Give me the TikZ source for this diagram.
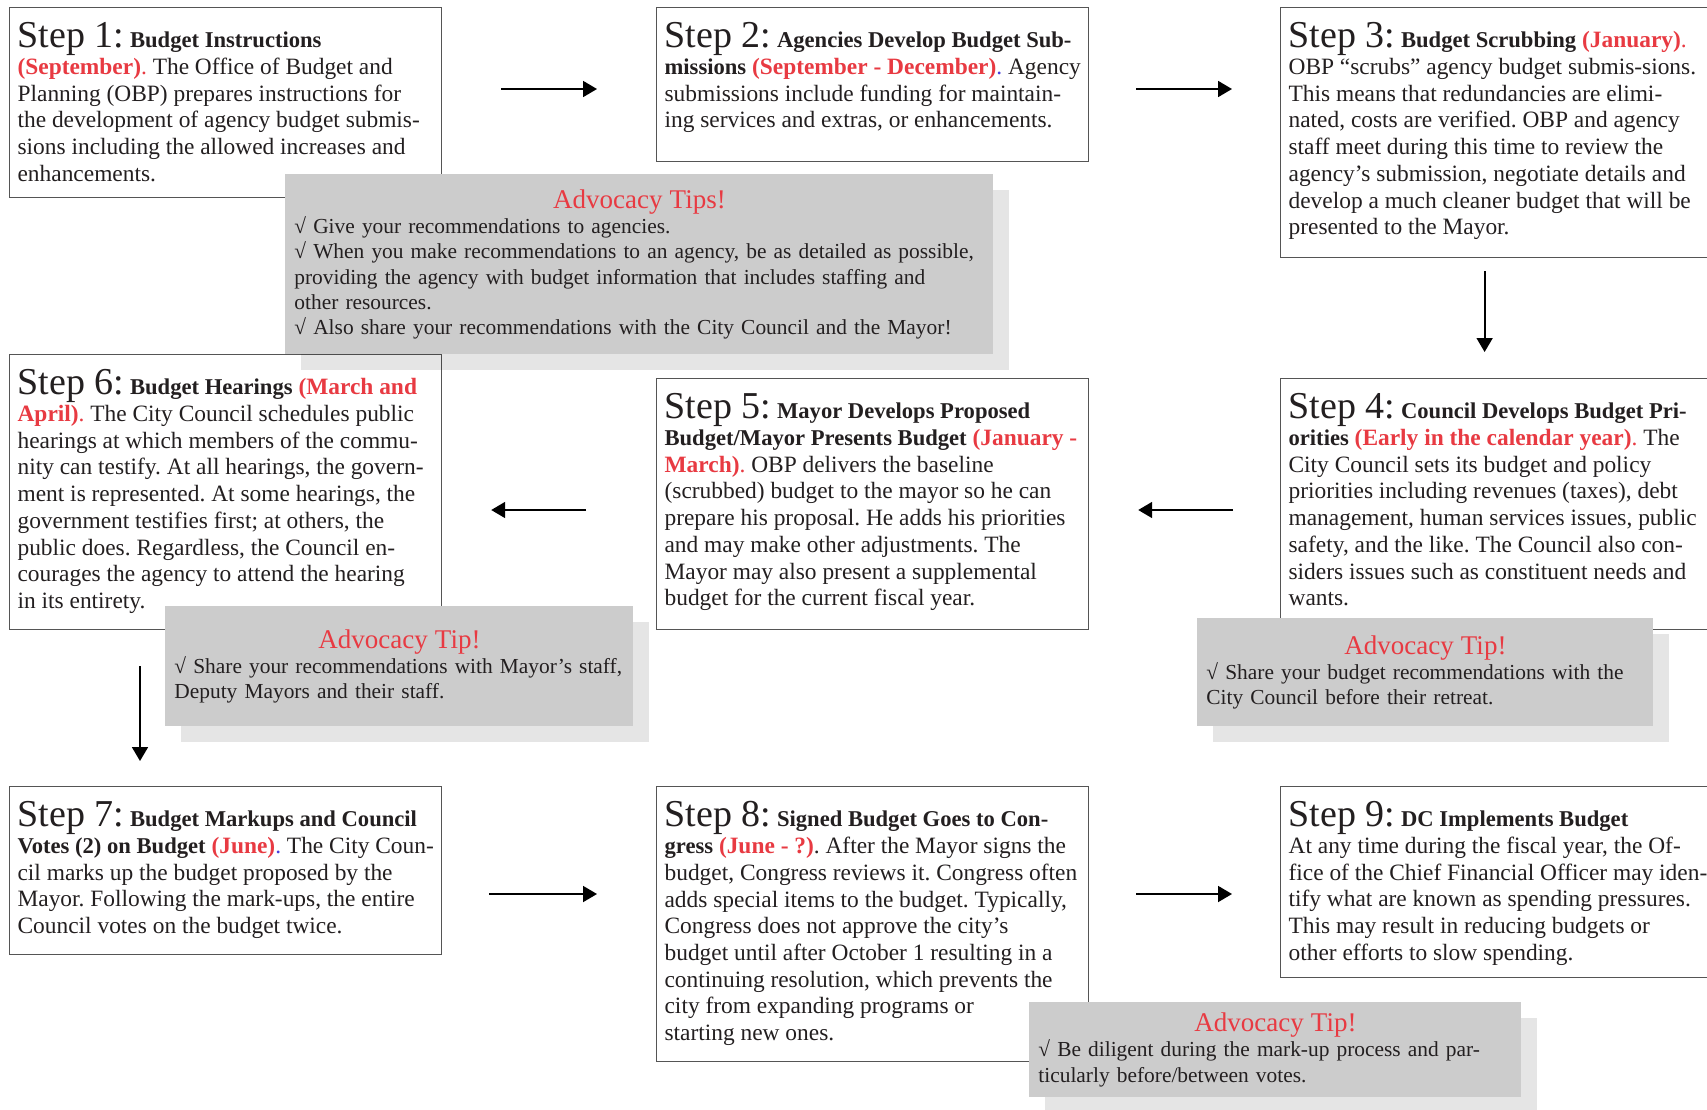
\documentclass[tikz,border=0pt]{standalone}
\usepackage{fontspec}
\setmainfont{Liberation Serif}
\usetikzlibrary{arrows.meta,shadows}
\usepackage{xcolor}
\definecolor{stepred}{RGB}{232, 58, 66}
\definecolor{tipgray}{RGB}{204, 204, 204}
\definecolor{framegray}{RGB}{85, 85, 85}
\definecolor{dotblue}{RGB}{70, 60, 220}
\definecolor{inkblack}{RGB}{35, 31, 32}
\setlength{\parindent}{0pt}
\frenchspacing

\newcommand{\stepfont}{\fontsize{11.7}{13.35}\selectfont}
\newcommand{\tipfont}{\fontsize{10.7}{12.6}\selectfont}
\newcommand{\stepno}[1]{{\fontsize{19}{13.35}\selectfont Step #1:}}
\newcommand{\ttl}[1]{{\fontsize{11.3}{13.35}\selectfont\bfseries #1}}
\newcommand{\stepdate}[1]{\textcolor{stepred}{\textbf{#1}.}}
\newcommand{\tiphead}[1]{{\fontsize{13.5}{14}\selectfont\color{stepred}#1}}
\newcommand{\steptext}[2]{\parbox[t][#1][t]{208pt}{\stepfont\begin{tabular}[t]{@{}l@{}}#2\end{tabular}}}

\begin{document}
\begin{tikzpicture}[x=0.5pt,y=-0.5pt,
    stepbox/.style={draw=framegray, line width=0.6pt, fill=white, text=inkblack,
      anchor=north west, inner xsep=4pt, inner ysep=7.5pt},
    tipbox/.style={fill=tipgray, text=inkblack, anchor=north west, inner xsep=4.5pt,
      inner ysep=0pt, align=left, font=\tipfont,
      drop shadow={shadow xshift=8pt, shadow yshift=-8pt, fill=black, opacity=0.1}},
    flow/.style={-{Triangle[length=7pt,width=8pt]}, line width=0.9pt}]
    \path[use as bounding box, fill=white] (0,0) rectangle (1707,1109);

    % First row
    \node[stepbox] (s1) at (9,7) {\steptext{80pt}{%
        \stepno{1} \ttl{Budget Instructions}\\
        \stepdate{(September)} The Office of Budget and\\
        Planning (OBP) prepares instructions for\\
        the development of agency budget submis-\\
        sions including the allowed increases and\\
        enhancements.}};
    \node[stepbox] (s2) at (656,7) {\steptext{62pt}{%
        \stepno{2} \ttl{Agencies Develop Budget Sub-}\\
        \ttl{missions} \textcolor{stepred}{\textbf{(September - December)}}\textcolor{dotblue}{.} Agency\\
        submissions include funding for maintain-\\
        ing services and extras, or enhancements.}};
    \node[stepbox] (s3) at (1280,7) {\steptext{110pt}{%
        \stepno{3} \ttl{Budget Scrubbing} \stepdate{(January)}\\
        OBP “scrubs” agency budget submis-sions.\\
        This means that redundancies are elimi-\\
        nated, costs are verified. OBP and agency\\
        staff meet during this time to review the\\
        agency’s submission, negotiate details and\\
        develop a much cleaner budget that will be\\
        presented to the Mayor.}};

    % Second row
    \node[stepbox] (s4) at (1280,378) {\steptext{110.5pt}{%
        \stepno{4} \ttl{Council Develops Budget Pri-}\\
        \ttl{orities} \stepdate{(Early in the calendar year)} The\\
        City Council sets its budget and policy\\
        priorities including revenues (taxes), debt\\
        management, human services issues, public\\
        safety, and the like. The Council also con-\\
        siders issues such as constituent needs and\\
        wants.}};
    \node[stepbox] (s5) at (656,378) {\steptext{110.5pt}{%
        \stepno{5} \ttl{Mayor Develops Proposed}\\
        \ttl{Budget/Mayor Presents Budget} \textcolor{stepred}{\textbf{(January -}}\\
        \stepdate{March)} OBP delivers the baseline\\
        (scrubbed) budget to the mayor so he can\\
        prepare his proposal. He adds his priorities\\
        and may make other adjustments. The\\
        Mayor may also present a supplemental\\
        budget for the current fiscal year.}};
    \node[stepbox] (s6) at (9,354) {\steptext{122.5pt}{%
        \stepno{6} \ttl{Budget Hearings} \textcolor{stepred}{\textbf{(March and}}\\
        \stepdate{April)} The City Council schedules public\\
        hearings at which members of the commu-\\
        nity can testify. At all hearings, the govern-\\
        ment is represented. At some hearings, the\\
        government testifies first; at others, the\\
        public does. Regardless, the Council en-\\
        courages the agency to attend the hearing\\
        in its entirety.}};

    % Third row
    \node[stepbox] (s7) at (9,786) {\steptext{69pt}{%
        \stepno{7} \ttl{Budget Markups and Council}\\
        \ttl{Votes (2) on Budget} \textcolor{stepred}{\textbf{(June)}}\textcolor{dotblue}{.} The City Coun-\\
        cil marks up the budget proposed by the\\
        Mayor. Following the mark-ups, the entire\\
        Council votes on the budget twice.}};
    \node[stepbox] (s8) at (656,786) {\steptext{122.5pt}{%
        \stepno{8} \ttl{Signed Budget Goes to Con-}\\
        \ttl{gress} \textcolor{stepred}{\textbf{(June - ?)}}. After the Mayor signs the\\
        budget, Congress reviews it. Congress often\\
        adds special items to the budget. Typically,\\
        Congress does not approve the city’s\\
        budget until after October 1 resulting in a\\
        continuing resolution, which prevents the\\
        city from expanding programs or\\
        starting new ones.}};
    \node[stepbox] (s9) at (1280,786) {\steptext{80.5pt}{%
        \stepno{9} \ttl{DC Implements Budget}\\
        At any time during the fiscal year, the Of-\\
        fice of the Chief Financial Officer may iden-\\
        tify what are known as spending pressures.\\
        This may result in reducing budgets or\\
        other efforts to slow spending.}};

    % Arrows between steps
    \draw[flow] ([shift={(59,82)}]s1.north east) -- ([shift={(-59,82)}]s2.north west);
    \draw[flow] ([shift={(47,82)}]s2.north east) -- ([shift={(-48,82)}]s3.north west);
    \draw[flow] ([shift={(-12,13)}]s3.south) -- ([shift={(-12,-26)}]s4.north);
    \draw[flow] ([shift={(-47,132)}]s4.north west) -- ([shift={(49,132)}]s5.north east);
    \draw[flow] ([shift={(-70,132)}]s5.north west) -- ([shift={(49,156)}]s6.north east);
    \draw[flow] ([shift={(131,36)}]s6.south west) -- ([shift={(131,-25)}]s7.north west);
    \draw[flow] ([shift={(47,108)}]s7.north east) -- ([shift={(-59,108)}]s8.north west);
    \draw[flow] ([shift={(47,108)}]s8.north east) -- ([shift={(-48,108)}]s9.north west);

    % Advocacy tips
    \node[tipbox, text width=345pt, minimum height=90pt] (t1) at (285,174) {%
        {\centering\tiphead{Advocacy Tips!}\par}
        √ Give your recommendations to agencies.\\
        √ When you make recommendations to an agency, be as detailed as possible,\\
        providing the agency with budget information that includes staffing and\\
        other resources.\\
        √ Also share your recommendations with the City Council and the Mayor!};
    \node[tipbox, text width=225pt, minimum height=60pt] (t6) at (165,606) {%
        {\centering\tiphead{Advocacy Tip!}\par}
        √ Share your recommendations with Mayor’s staff,\\
        Deputy Mayors and their staff.};
    \node[tipbox, text width=219pt, minimum height=54pt] (t4) at (1197,618) {%
        {\centering\tiphead{Advocacy Tip!}\par}
        √ Share your budget recommendations with the\\
        City Council before their retreat.};
    \node[tipbox, text width=237pt, minimum height=47.5pt] (t8) at (1029,1002) {%
        {\centering\tiphead{Advocacy Tip!}\par}
        √ Be diligent during the mark-up process and par-\\
        ticularly before/between votes.};
\end{tikzpicture}
\end{document}
